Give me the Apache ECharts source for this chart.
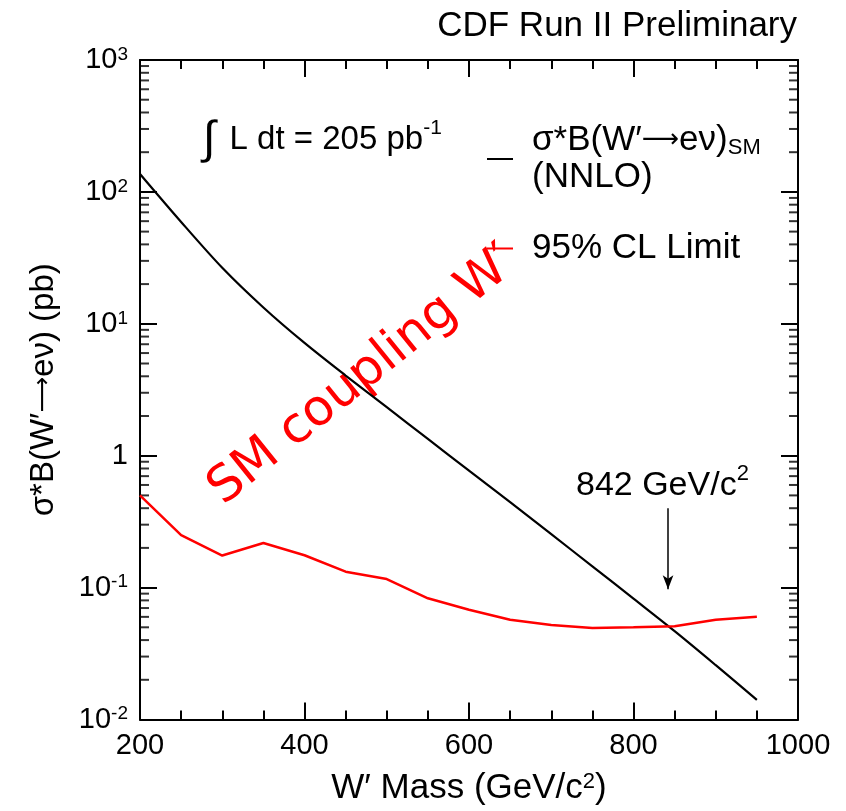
<!DOCTYPE html>
<html lang="en">
<head>
<meta charset="UTF-8">
<title>W' Mass limit</title>
<script src="https://cdn.jsdelivr.net/npm/echarts@6.0.0/dist/echarts.min.js"></script>
<style>
  html, body { margin: 0; padding: 0; background: #fff; }
  #chart-container { width: 846px; height: 811px; }
</style>
</head>
<body>
<div id="chart-container"></div>
<script>
  // W' mass points (GeV/c^2)
  var masses = [200, 250, 300, 350, 400, 450, 500, 550, 600, 650, 700, 750, 800, 850, 900, 950];
  // sigma*B SM (NNLO), pb
  var smXsec = [136.8, 59.2, 26.6, 13.3, 7.16, 4.05, 2.33, 1.34, 0.771, 0.444, 0.254, 0.145, 0.0824, 0.0467, 0.0258, 0.0141];
  // 95% CL limit, pb
  var limitXsec = [0.50, 0.25, 0.175, 0.218, 0.176, 0.132, 0.116, 0.083, 0.068, 0.057, 0.052, 0.0495, 0.050, 0.051, 0.057, 0.060];

  var yTickValues = [0.01, 0.1, 1, 10, 100, 1000];
  var yTickLabels = ['10{sup|-2}', '10{sup|-1}', '1', '10{sup|1}', '10{sup|2}', '10{sup|3}'];
  var logMantissas = [2, 3, 4, 5, 6, 7, 8, 9];
  var logDecades = [0.01, 0.1, 1, 10, 100];

  // arrow for the mass limit
  var arrowMass = 842;
  var arrowTop = 0.40;
  var arrowTip = 0.097;

  var font = 'Liberation Sans';
  var xMin = 200, xMax = 1000;

  // minor log ticks (drawn as small rects through the axes)
  var minorTicks = [];
  logDecades.forEach(function (d) {
    logMantissas.forEach(function (m) { minorTicks.push(+(m * d).toPrecision(3)); });
  });

  function tickSeries(x, offset) {
    return {
      type: 'scatter',
      silent: true,
      clip: false,
      symbol: 'rect',
      symbolSize: [9, 2],
      symbolOffset: [offset, 0],
      itemStyle: { color: '#000' },
      data: minorTicks.map(function (v) { return [x, v]; })
    };
  }

  var axisCommon = {
    axisLine: { lineStyle: { color: '#000', width: 2 } },
    axisTick: { inside: true, length: 17, lineStyle: { color: '#000', width: 2 } },
    splitLine: { show: false }
  };

  var option = {
    animation: false,
    backgroundColor: '#fff',
    grid: { left: 140, top: 60, width: 658, height: 662 },
    legend: {
      left: 487,
      top: 123,
      orient: 'vertical',
      padding: 0,
      itemGap: 36,
      itemWidth: 26,
      itemHeight: 2,
      icon: 'rect',
      selectedMode: false,
      data: ['sm', 'limit'],
      formatter: function (name) {
        if (name === 'sm') return '{t|σ*B(W′}{a|⟶}{u|eν)}{sub|SM}\n{t|(NNLO)}';
        return '{t|95% CL Limit}';
      },
      textStyle: {
        fontFamily: font,
        fontSize: 35,
        color: '#000',
        rich: {
          t: { fontFamily: font, fontSize: 35, color: '#000', lineHeight: 37, padding: [0, 0, 0, 14] },
          u: { fontFamily: font, fontSize: 35, color: '#000', lineHeight: 37 },
          a: { fontFamily: 'DejaVu Sans', fontSize: 26, color: '#000', lineHeight: 37 },
          sub: { fontFamily: font, fontSize: 22, color: '#000', verticalAlign: 'bottom', lineHeight: 37 }
        }
      }
    },
    xAxis: [
      Object.assign({}, axisCommon, {
        type: 'value', min: xMin, max: xMax, interval: 200,
        minorTick: { show: true, splitNumber: 4, length: 9, lineStyle: { color: '#000', width: 2 } },
        axisLabel: {
          fontFamily: font, fontSize: 29, color: '#000', margin: 12,
          formatter: function (v) { return String(v); }
        },
        name: 'W′ Mass (GeV/c{sup|2})',
        nameLocation: 'middle',
        nameGap: 51,
        nameTextStyle: {
          fontFamily: font, fontSize: 35, color: '#000',
          rich: { sup: { fontSize: 22, fontFamily: font, color: '#000', verticalAlign: 'top', lineHeight: 36 } }
        }
      }),
      Object.assign({}, axisCommon, {
        type: 'value', position: 'top', min: xMin, max: xMax, interval: 200,
        minorTick: { show: true, splitNumber: 4, length: 9, lineStyle: { color: '#000', width: 2 } },
        axisLabel: { show: false }
      })
    ],
    yAxis: [
      Object.assign({}, axisCommon, {
        type: 'log', logBase: 10, min: 0.01, max: 1000, interval: 1,
        axisLabel: {
          fontFamily: font, fontSize: 29, color: '#000', margin: 12,
          formatter: function (v) {
            for (var i = 0; i < yTickValues.length; i++) {
              if (Math.abs(Math.log10(yTickValues[i]) - Math.log10(v)) < 1e-6) return yTickLabels[i];
            }
            return '';
          },
          rich: { sup: { fontSize: 19, fontFamily: font, color: '#000', verticalAlign: 'top', lineHeight: 30 } }
        },
        name: '{t|σ*B(W′}{a|⟶}{t|eν) (pb)}',
        nameLocation: 'middle',
        nameGap: 80,
        nameTextStyle: {
          fontFamily: font, fontSize: 33, color: '#000',
          rich: {
            t: { fontFamily: font, fontSize: 33, color: '#000' },
            a: { fontFamily: 'DejaVu Sans', fontSize: 25, color: '#000' }
          }
        }
      }),
      Object.assign({}, axisCommon, {
        type: 'log', logBase: 10, min: 0.01, max: 1000, interval: 1, position: 'right',
        axisLabel: { show: false }
      })
    ],
    series: [
      {
        name: 'sm',
        type: 'line',
        symbol: 'none',
        smooth: 0.3,
        color: '#000',
        lineStyle: { color: '#000', width: 2.2 },
        data: masses.map(function (m, i) { return [m, smXsec[i]]; })
      },
      {
        name: 'limit',
        type: 'line',
        symbol: 'none',
        color: '#ff0000',
        lineStyle: { color: '#ff0000', width: 2.5 },
        data: masses.map(function (m, i) { return [m, limitXsec[i]]; }),
        markLine: {
          silent: true,
          symbol: ['none', 'arrow'],
          symbolSize: [8, 14],
          label: { show: false },
          lineStyle: { color: '#000', width: 1.5, type: 'solid' },
          data: [[{ coord: [arrowMass, arrowTop] }, { coord: [arrowMass, arrowTip] }]]
        }
      },
      tickSeries(xMin, 4.5),
      tickSeries(xMax, -4.5)
    ],
    graphic: [
      {
        type: 'text', x: 797, y: 26,
        style: { text: 'CDF Run II Preliminary', font: '35px "Liberation Sans"', fill: '#000', align: 'right', verticalAlign: 'middle' }
      },
      {
        type: 'text', x: 203, y: 140,
        style: {
          text: '{i|∫}{t|L dt = 205 pb}{s|-1}',
          verticalAlign: 'middle',
          rich: {
            i: { fontFamily: font, fontSize: 46, fill: '#000', lineHeight: 50 },
            t: { fontFamily: font, fontSize: 33, fill: '#000', lineHeight: 50, padding: [0, 0, 0, 14] },
            s: { fontFamily: font, fontSize: 21, fill: '#000', lineHeight: 50, padding: [0, 0, 24, 0] }
          }
        }
      },
      {
        type: 'text', x: 576, y: 486,
        style: {
          text: '{t|842 GeV/c}{s|2}',
          verticalAlign: 'middle',
          rich: {
            t: { fontFamily: font, fontSize: 34, fill: '#000', lineHeight: 40 },
            s: { fontFamily: font, fontSize: 22, fill: '#000', lineHeight: 40, padding: [0, 0, 24, 0] }
          }
        }
      },
      {
        type: 'text', x: 363, y: 376, rotation: 39 * Math.PI / 180,
        style: { text: 'SM coupling W′', font: '50px "DejaVu Sans"', fill: '#ff0000', align: 'center', verticalAlign: 'middle' }
      }
    ]
  };

  var chart = echarts.init(document.getElementById('chart-container'));
  chart.setOption(option);
</script>
</body>
</html>
